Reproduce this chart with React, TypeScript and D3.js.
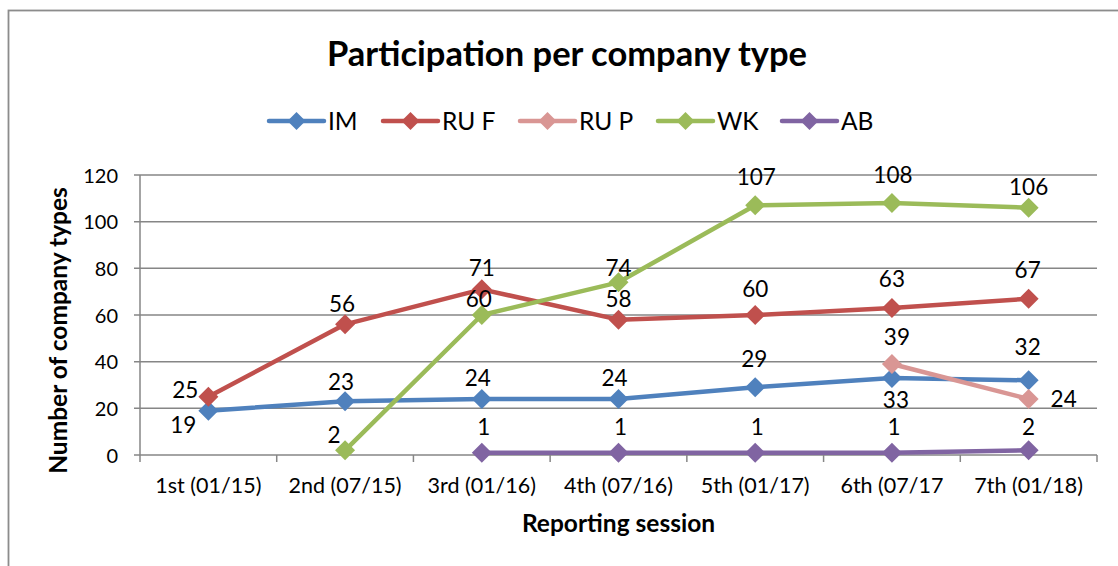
import React from "react";
import * as d3 from "d3";

const categories = ["1st (01/15)", "2nd (07/15)", "3rd (01/16)", "4th (07/16)", "5th (01/17)", "6th (07/17", "7th (01/18)"];
const seriesNames = ["IM", "RU F", "RU P", "WK", "AB"];
const imValues: (number | null)[] = [19, 23, 24, 24, 29, 33, 32];
const rufValues: (number | null)[] = [25, 56, 71, 58, 60, 63, 67];
const rupValues: (number | null)[] = [null, null, null, null, null, 39, 24];
const wkValues: (number | null)[] = [null, 2, 60, 74, 107, 108, 106];
const abValues: (number | null)[] = [null, null, 1, 1, 1, 1, 2];
const yTicks = [0, 20, 40, 60, 80, 100, 120];

const colors = ["#4F81BD", "#C0504D", "#D99694", "#9BBB59", "#8064A2"];
// data label offsets (px) from each marker: [dx, dy(baseline)]
const labelDx: number[][] = [
  [-25, -4, -4, -4, -1, 4, -1],
  [-23, -3, 0, 0, 0, 0, -1],
  [0, 0, 0, 0, 0, 5, 35],
  [0, -11, -3, 0, 1, 1, 0],
  [0, 0, 2, 2, 2, 2, 0],
];
const labelDy: number[][] = [
  [22, -11, -13, -13, -20, 30, -25],
  [1, -12, -13, -13, -18, -21, -21],
  [0, 0, 0, 0, 0, -19, 8],
  [0, -7, -8, -6, -20, -20, -13],
  [0, 0, -18, -18, -18, -18, -15],
];
const legendX = [269, 383, 520, 658, 782];

const W = 1118, H = 566;
const plotLeft = 140, plotRight = 1097, plotTop = 175, plotBottom = 455;
const FONT = "Lato, 'Open Sans', sans-serif";

export default function App() {
  const allSeries = [imValues, rufValues, rupValues, wkValues, abValues];
  const x = d3.scaleBand<string>().domain(categories).range([plotLeft, plotRight]).paddingInner(0).paddingOuter(0);
  const y = d3.scaleLinear().domain([0, 120]).range([plotBottom, plotTop]);
  const cx = (i: number) => (x(categories[i]) as number) + x.bandwidth() / 2;
  const line = d3
    .line<number | null>()
    .defined((d) => d !== null)
    .x((_, i) => cx(i))
    .y((d) => y(d as number));
  const diamond = (px: number, py: number, r: number) => `M${px},${py - r}L${px + r},${py}L${px},${py + r}L${px - r},${py}Z`;

  const boundaries = d3.range(categories.length + 1).map((i) => plotLeft + i * x.bandwidth());

  return (
    <svg width={W} height={H} style={{ position: "absolute", left: 0, top: 0, background: "#fff" }}>
      <rect x={8.5} y={10.5} width={W + 20} height={H + 20} fill="#fff" stroke="#8c8c8c" strokeWidth={1.8} />
      <text x={567} y={65.5} textAnchor="middle" fontFamily={FONT} fontWeight="bold" fontSize={34.5} fill="#000">
        Participation per company type
      </text>
      {/* legend */}
      {seriesNames.map((n, i) => (
        <g key={n}>
          <line x1={legendX[i]} x2={legendX[i] + 55} y1={121} y2={121} stroke={colors[i]} strokeWidth={4.5} strokeLinecap="round" />
          <path d={diamond(legendX[i] + 27.5, 121, 9)} fill={colors[i]} />
          <text x={legendX[i] + 59} y={129.5} fontFamily={FONT} fontSize={24.5} fill="#000">
            {n}
          </text>
        </g>
      ))}
      {/* grid */}
      {yTicks.map((t) => (
        <g key={t}>
          <line x1={plotLeft - 6} x2={plotRight} y1={y(t)} y2={y(t)} stroke="#868686" strokeWidth={1.5} />
          <text x={118} y={y(t) + 7.5} textAnchor="end" fontFamily={FONT} fontSize={20} fill="#000">
            {t}
          </text>
        </g>
      ))}
      <line x1={plotLeft} x2={plotLeft} y1={plotTop} y2={plotBottom} stroke="#868686" strokeWidth={1.5} />
      {boundaries.map((b, i) => (
        <line key={i} x1={b} x2={b} y1={plotBottom} y2={plotBottom + 7} stroke="#868686" strokeWidth={1.5} />
      ))}
      {categories.map((c, i) => (
        <text key={c} x={cx(i)} y={493} textAnchor="middle" fontFamily={FONT} fontSize={21.5} fill="#000">
          {c}
        </text>
      ))}
      <text x={618.5} y={532} textAnchor="middle" fontFamily={FONT} fontWeight="bold" fontSize={24.5} fill="#000">
        Reporting session
      </text>
      <text
        transform={`translate(67,330.5) rotate(-90)`}
        textAnchor="middle"
        fontFamily={FONT}
        fontWeight="bold"
        fontSize={24.5}
        fill="#000"
      >
        Number of company types
      </text>
      {/* series */}
      {allSeries.map((vals, si) => (
        <g key={si}>
          <path d={line(vals) || ""} fill="none" stroke={colors[si]} strokeWidth={4.5} strokeLinejoin="round" />
          {vals.map((v, i) =>
            v === null ? null : <path key={i} d={diamond(cx(i), y(v), 10)} fill={colors[si]} />
          )}
        </g>
      ))}
      {allSeries.map((vals, si) => (
        <g key={"l" + si}>
          {vals.map((v, i) => {
            if (v === null) return null;
            return (
              <text
                key={i}
                x={cx(i) + labelDx[si][i]}
                y={y(v) + labelDy[si][i]}
                textAnchor="middle"
                fontFamily={FONT}
                fontSize={22.5}
                fill="#000"
              >
                {v}
              </text>
            );
          })}
        </g>
      ))}
    </svg>
  );
}
